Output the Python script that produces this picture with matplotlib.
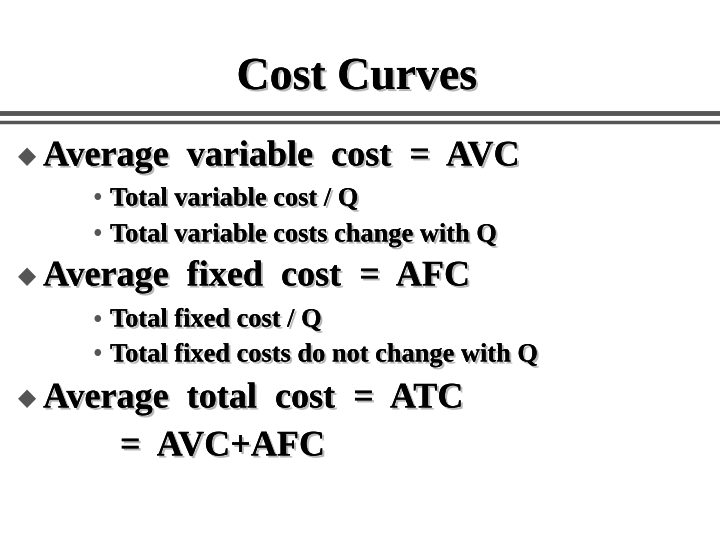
import matplotlib
matplotlib.use("Agg")
import matplotlib.pyplot as plt
import matplotlib.patheffects as pe

title = "Cost Curves"
items = [
    ("main", "Average  variable  cost  =  AVC", 157),
    ("sub", "Total variable cost / Q", 199),
    ("sub", "Total variable costs change with Q", 235),
    ("main", "Average  fixed  cost  =  AFC", 277),
    ("sub", "Total fixed cost / Q", 320),
    ("sub", "Total fixed costs do not change with Q", 355),
    ("main", "Average  total  cost  =  ATC", 399),
    ("cont", "=  AVC+AFC", 447),
]

fig = plt.figure(figsize=(7.2, 5.4), dpi=100)
ax = fig.add_axes([0, 0, 1, 1])
ax.set_xlim(0, 720); ax.set_ylim(540, 0); ax.axis("off")
shadow = [pe.withSimplePatchShadow(offset=(1.5, -1.5), shadow_rgbFace="#b8b8b8", alpha=1), pe.Normal()]
font = "Liberation Serif"

ax.text(357, 78, title, ha="center", va="center", fontsize=33, fontweight="bold",
        family=font, path_effects=shadow)
ax.plot([0, 720], [113, 113], color="#555555", lw=3.5)
ax.plot([0, 720], [122, 122], color="#555555", lw=2.5)

for kind, txt, y in items:
    if kind == "main":
        ax.text(18, y - 1, "\u25c6", ha="left", va="center", fontsize=17, color="#555555", family="DejaVu Sans")
        ax.text(43, y, txt, ha="left", va="center", fontsize=26, fontweight="bold", family=font, path_effects=shadow)
    elif kind == "sub":
        ax.text(92, y + 1, "\u2022", ha="left", va="center", fontsize=20, color="#555555", family=font)
        ax.text(110, y, txt, ha="left", va="center", fontsize=19, fontweight="bold", family=font, path_effects=shadow)
    else:
        ax.text(120, y, txt, ha="left", va="center", fontsize=26, fontweight="bold", family=font, path_effects=shadow)

fig.savefig("out.png", dpi=100)
